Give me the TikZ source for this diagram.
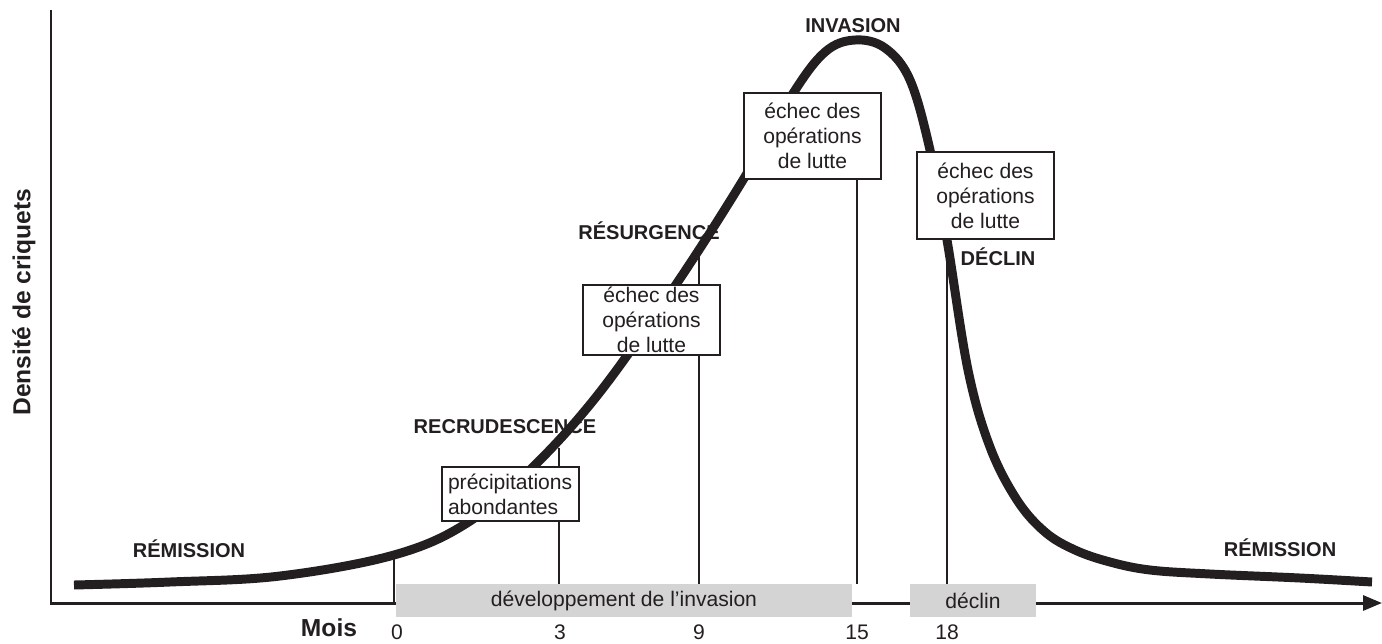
\documentclass[tikz,border=0pt]{standalone}
\usepackage{fontspec}
\setmainfont{Liberation Sans}
\usetikzlibrary{arrows.meta}
\definecolor{cInk}{HTML}{231F20}
\definecolor{cBar}{HTML}{D4D4D4}
\tikzset{
  phase/.style={font=\fontsize{11.4}{13}\selectfont\bfseries,text=cInk,inner sep=0pt},
  fbox/.style={draw=cInk,line width=1.4pt,fill=white,align=center,minimum width=2.74cm,inner xsep=2pt,inner ysep=0pt,font=\fontsize{12}{14.2}\selectfont,text=cInk},
  bar/.style={fill=cBar,minimum height=0.66cm,inner sep=0pt,font=\fontsize{12}{14}\selectfont,text=cInk},
  ticklab/.style={font=\fontsize{12}{14}\selectfont,text=cInk,inner sep=0pt},
  tick/.style={cInk,line width=0.6pt},
  axisline/.style={cInk,line width=1.7pt},
  curve/.style={cInk,line width=5.1pt},
}
\begin{document}
\begin{tikzpicture}[x=0.02cm,y=-0.02cm]
  \useasboundingbox (0,0) rectangle (1382,643);
  % axes
  \coordinate (ytop) at (51,10);
  \coordinate (O) at (51,603);
  \coordinate (xend) at (1382,603);
  \draw[axisline,-{Triangle[length=3.8mm,width=3mm]}] (ytop) -- (O) -- (xend);
  \node[rotate=90,font=\fontsize{14}{16}\selectfont\bfseries,text=cInk,inner sep=0pt] (ylab) at (24,302) {Densité de criquets};
  \node[font=\fontsize{14}{16}\selectfont\bfseries,text=cInk,inner sep=0pt] (xlab) at (329,628) {Mois};
  % phase labels
  \node[phase] (rem1) at (189,549) {RÉMISSION};
  \node[phase] (recr) at (505,427) {RECRUDESCENCE};
  \node[phase] (resu) at (649,231) {RÉSURGENCE};
  \node[phase] (inva) at (853,26) {INVASION};
  \node[phase] (decl) at (998,257) {DÉCLIN};
  \node[phase] (rem2) at (1280,548) {RÉMISSION};
  % month labels
  \node[ticklab] (m0) at (397,632) {0};
  \node[ticklab] (m3) at (560,632) {3};
  \node[ticklab] (m9) at (699,632) {9};
  \node[ticklab] (m15) at (857,632) {15};
  \node[ticklab] (m18) at (947,632) {18};
  % grey bars
  \node[bar,minimum width=9.12cm] (dev) at (624,600.5) {développement de l’invasion};
  \node[bar,minimum width=2.52cm] (dcl) at (973,600.5) {déclin};
  % density curve
  \draw[curve] plot[smooth,tension=0.6] coordinates {
    (74,585) (170,582) (280,576) (394,555) (467,523) (532,468)
    (600,392) (677,283) (743,180) (792,95) (825,52) (855,40) (885,48)
    (910,80) (930,150) (947,240) (968,370) (990,447) (1017,500)
    (1045,532) (1075,550) (1110,562) (1150,570) (1210,574) (1300,578)
    (1372,582)};
  % month lines
  \coordinate (t0) at (394,556);
  \coordinate (t3) at (559,448);
  \coordinate (t9) at (699,255);
  \draw[tick] (t0) -- (t0 |- O);
  \draw[tick] (t3) -- (t3 |- dev.north);
  \draw[tick] (t9) -- (t9 |- dev.north);
  % boxes
  \node[fbox,align=left,text width=2.5cm,inner xsep=0.12cm,minimum height=1.08cm] (rain) at (510.5,494) {précipitations\\abondantes};
  \node[fbox,minimum height=1.4cm] (fail1) at (651.5,320) {échec des\\opérations\\de lutte};
  \node[fbox,minimum height=1.72cm] (fail2) at (812.5,136) {échec des\\opérations\\de lutte};
  \node[fbox,minimum height=1.74cm] (fail3) at (985.5,195.5) {échec des\\opérations\\de lutte};
  \draw[tick] (fail2.south -| m15) -- (m15 |- dev.north);
  \draw[tick] (fail3.south -| m18) -- (m18 |- dcl.north);
\end{tikzpicture}
\end{document}
